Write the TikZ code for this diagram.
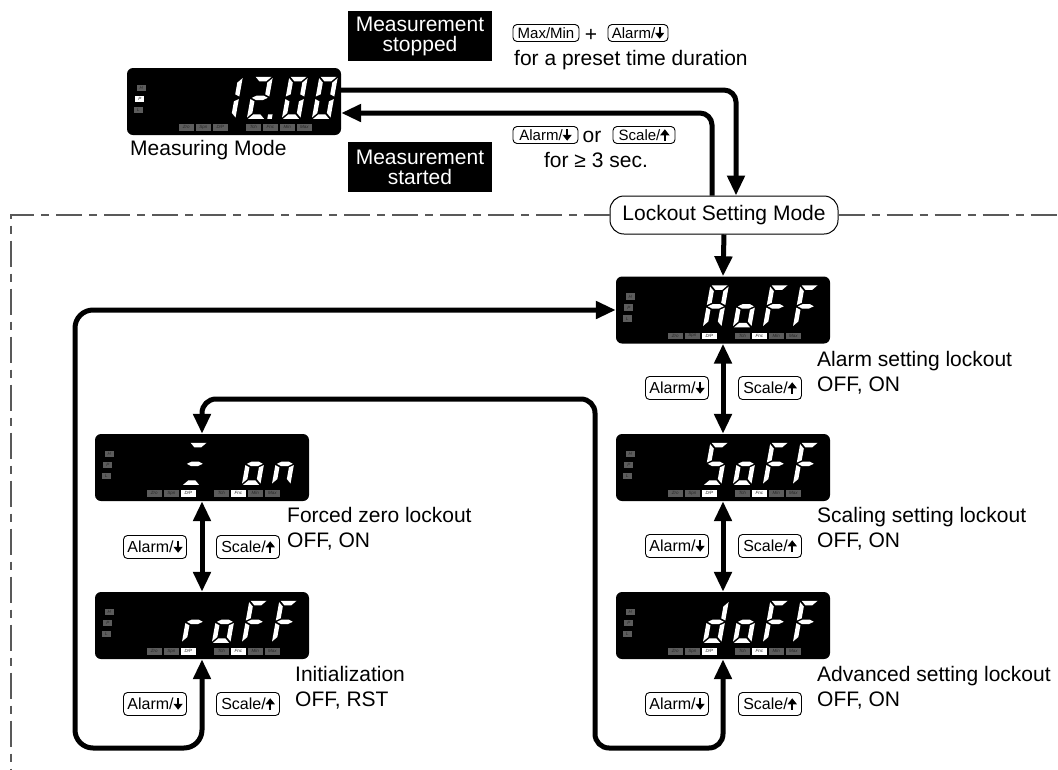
\documentclass[tikz,border=0pt]{standalone}
\usepackage{fontspec}
\setmainfont{Liberation Sans}
\usetikzlibrary{arrows.meta}
\definecolor{indgray}{gray}{0.36}
\newcommand{\bigf}{\fontsize{21}{25}\selectfont}
\newcommand{\btnf}{\fontsize{16}{16}\selectfont}
\newcommand{\btnsf}{\fontsize{15}{15}\selectfont}
\newcommand{\arrdn}{\tikz[x=1pt,y=1pt,baseline=0pt,sharp corners]\draw[black,line width=1.8pt,-{Triangle[length=6pt,width=9pt]}] (0,11.5)--(0,0);}
\newcommand{\arrup}{\tikz[x=1pt,y=1pt,baseline=0pt,sharp corners]\draw[black,line width=1.8pt,-{Triangle[length=6pt,width=9pt]}] (0,0)--(0,11.5);}
% seven segment pieces (local coords, y up, origin bottom-left)
\newcommand{\SgA}{\fill[white] (1.3,42) -- (17.2,42) -- (12.7,37.5) -- (5.8,37.5) -- cycle;}
\newcommand{\SgB}{\fill[white] (18.5,40.7) -- (14,36.2) -- (14,24.5) -- (18.5,22.3) -- cycle;}
\newcommand{\SgC}{\fill[white] (18.5,1.3) -- (14,5.8) -- (14,17.5) -- (18.5,19.7) -- cycle;}
\newcommand{\SgD}{\fill[white] (1.3,0) -- (17.2,0) -- (12.7,4.5) -- (5.8,4.5) -- cycle;}
\newcommand{\SgE}{\fill[white] (0,1.3) -- (4.5,5.8) -- (4.5,17.5) -- (0,19.7) -- cycle;}
\newcommand{\SgF}{\fill[white] (0,40.7) -- (4.5,36.2) -- (4.5,24.5) -- (0,22.3) -- cycle;}
\newcommand{\SgG}{\fill[white] (1.3,21) -- (5.8,23.25) -- (12.7,23.25) -- (17.2,21) -- (12.7,18.75) -- (5.8,18.75) -- cycle;}
\newcommand{\SgP}{\fill[white] (20.5,0) rectangle (25,4.5);}
\newcommand{\chA}{\SgA\SgB\SgC\SgE\SgF\SgG}
\newcommand{\cho}{\SgC\SgD\SgE\SgG}
\newcommand{\chF}{\SgA\SgE\SgF\SgG}
\newcommand{\chS}{\SgA\SgF\SgG\SgC\SgD}
\newcommand{\chd}{\SgB\SgC\SgD\SgE\SgG}
\newcommand{\chr}{\SgE\SgG}
\newcommand{\chn}{\SgC\SgE\SgG}
\newcommand{\chZ}{\SgA\SgG\SgD}
\newcommand{\chone}{\SgB\SgC}
\newcommand{\chtwo}{\SgA\SgB\SgG\SgE\SgD}
\newcommand{\chzero}{\SgA\SgB\SgC\SgD\SgE\SgF}
\newcommand{\dig}[2]{\begin{scope}[shift={(#1,51)},y=1pt,xslant=0.18]#2\end{scope}}
% indicator lamps of a display: #1 name, #2 fill of P, #3 fill of D/P and Fnc
\newcommand{\inds}[3]{%
  \node[ind,minimum width=9pt] (#1-H) at (14.5,20.25) {H};
  \node[ind,minimum width=9pt,fill=#2] (#1-P) at (13,31.25) {P};
  \node[ind,minimum width=9pt] (#1-L) at (11.5,42.25) {L};
  \node[ind] (#1-Zro) at (59.5,59.5) {Zro};
  \node[ind] (#1-Spn) at (76.5,59.5) {Spn};
  \node[ind,fill=#3] (#1-DP) at (93.5,59.5) {D/P};
  \node[ind] (#1-Tch) at (126.5,59.5) {Tch};
  \node[ind,fill=#3] (#1-Fnc) at (143.5,59.5) {Fnc};
  \node[ind] (#1-Min) at (160.5,59.5) {Min};
  \node[ind] (#1-Max) at (177.5,59.5) {Max};}
\begin{document}
\begin{tikzpicture}[x=1pt,y=-1pt,
 lcd/.style={rectangle,fill=black,rounded corners=6pt,minimum width=214pt,minimum height=67pt,inner sep=0pt},
 ind/.style={rectangle,fill=indgray,minimum width=15pt,minimum height=6.5pt,inner sep=0pt,font=\fontsize{4.5}{4.5}\selectfont\itshape,text=black!85},
 lbl/.style={inner sep=0pt,font=\bigf,align=left},
 blk/.style={fill=black,text=white,inner sep=0pt,minimum width=144pt,minimum height=50pt,align=center,font=\fontsize{21}{20}\selectfont},
 lockbox/.style={draw,line width=1pt,rounded corners=14pt,fill=white,minimum width=228pt,minimum height=38pt,inner sep=0pt,font=\bigf},
 kbtn/.style={draw,line width=0.9pt,rounded corners=4pt,inner sep=0pt,minimum width=63pt,minimum height=23pt,font=\btnf},
 kbtns/.style={kbtn,minimum height=17pt,font=\btnsf},
 arr/.style={line width=5pt,-{Triangle[length=20pt,width=17pt]}},
 dbl/.style={line width=5pt,{Triangle[length=20pt,width=17pt]}-{Triangle[length=20pt,width=17pt]}},
 dashln/.style={line width=1.2pt,black!65,dash pattern=on 26pt off 7pt on 8pt off 7pt}]
\useasboundingbox (0,0) rectangle (1058,769);

% displays
\node[lcd] (M) at (234,101.5) {};
\node[lcd] (A) at (723,310) {};
\node[lcd] (S) at (723,467.5) {};
\node[lcd] (D) at (723,625.5) {};
\node[lcd] (F) at (202,467.5) {};
\node[lcd] (R) at (202,625.5) {};

\begin{scope}[shift={(M.north west)}]
 \inds{M}{white}{indgray}
 \dig{90}{\chone}\dig{120}{\chtwo\SgP}\dig{155}{\chzero}\dig{185}{\chzero}
\end{scope}
\begin{scope}[shift={(A.north west)}]
 \inds{A}{indgray}{white}
 \dig{87}{\chA}\dig{117}{\cho}\dig{147}{\chF}\dig{177}{\chF}
\end{scope}
\begin{scope}[shift={(S.north west)}]
 \inds{S}{indgray}{white}
 \dig{87}{\chS}\dig{117}{\cho}\dig{147}{\chF}\dig{177}{\chF}
\end{scope}
\begin{scope}[shift={(D.north west)}]
 \inds{D}{indgray}{white}
 \dig{87}{\chd}\dig{117}{\cho}\dig{147}{\chF}\dig{177}{\chF}
\end{scope}
\begin{scope}[shift={(F.north west)}]
 \inds{F}{indgray}{white}
 \dig{87}{\chZ}\dig{147}{\cho}\dig{177}{\chn}
\end{scope}
\begin{scope}[shift={(R.north west)}]
 \inds{R}{indgray}{white}
 \dig{87}{\chr}\dig{117}{\cho}\dig{147}{\chF}\dig{177}{\chF}
\end{scope}

% lockout mode and frame
\node[lockbox] (L) at (724,215) {Lockout Setting Mode};
\coordinate (dc) at (11,215);
\coordinate (db) at (11,769);
\coordinate (dr) at (1058,215);
\draw[dashln] (L.west) -- (dc) -- (db);
\draw[dashln] (L.east) -- (dr);

% texts
\node[lbl,anchor=north west] (mm) at (130,140) {Measuring Mode};
\node[blk] (stop) at (420,36) {Measurement\\stopped};
\node[blk] (start) at (420,167) {Measurement\\started};
\node[kbtns,minimum width=66pt] (k1) at (546,33) {Max/Min};
\node[lbl] (plus) at (591,35) {+};
\node[kbtns,minimum width=60pt] (k2) at (638,33) {Alarm/\arrdn};
\node[lbl,anchor=north west] (pre) at (514,50) {for a preset time duration};
\node[kbtns,minimum width=65pt] (k3) at (545.5,135) {Alarm/\arrdn};
\node[lbl] (or) at (592,137) {or};
\node[kbtns,minimum width=62pt] (k4) at (644,135) {Scale/\arrup};
\node[lbl] (sec) at (596,160) {for ≥ 3 sec.};

\node[lbl,anchor=north west] (la) at (817,351) {Alarm setting lockout\\OFF, ON};
\node[lbl,anchor=north west] (ls) at (817,507) {Scaling setting lockout\\OFF, ON};
\node[lbl,anchor=north west] (ld) at (817,666) {Advanced setting lockout\\OFF, ON};
\node[lbl,anchor=north west] (lf) at (287,507) {Forced zero lockout\\OFF, ON};
\node[lbl,anchor=north west] (lr) at (295,666) {Initialization\\OFF, RST};

% keys
\node[kbtn] (ka1) at (677,388) {Alarm/\arrdn};
\node[kbtn] (ks1) at (770,388) {Scale/\arrup};
\node[kbtn] (ka2) at (677,546) {Alarm/\arrdn};
\node[kbtn] (ks2) at (770,546) {Scale/\arrup};
\node[kbtn] (ka3) at (677,704) {Alarm/\arrdn};
\node[kbtn] (ks3) at (770,704) {Scale/\arrup};
\node[kbtn] (ka4) at (155,547) {Alarm/\arrdn};
\node[kbtn] (ks4) at (248,547) {Scale/\arrup};
\node[kbtn] (ka5) at (155,704) {Alarm/\arrdn};
\node[kbtn] (ks5) at (248,704) {Scale/\arrup};

% connectors
\coordinate (t1) at (736,90);
\coordinate (t2) at (712,113);
\coordinate (lb) at (75,748);
\coordinate (rb) at (595,748);
\coordinate (rt) at (595,399);
\draw[arr,rounded corners=12pt] (M.east |- t1) -- (t1) -- (t1 |- L.north);
\draw[arr,rounded corners=12pt] (t2 |- L.north) -- (t2) -- (M.east |- t2);
\draw[arr] (L.south) -- (A.north);
\draw[dbl] (A.south) -- (S.north);
\draw[dbl] (S.south) -- (D.north);
\draw[dbl] (F.south) -- (R.north);
\draw[dbl,rounded corners=18pt] (R.south) -- (R.south |- lb) -- (lb) -- (lb |- A.west) -- (A.west);
\draw[dbl,rounded corners=14pt] (D.south) -- (D.south |- rb) -- (rb) -- (rt) -- (F.north |- rt) -- (F.north);
\end{tikzpicture}
\end{document}
